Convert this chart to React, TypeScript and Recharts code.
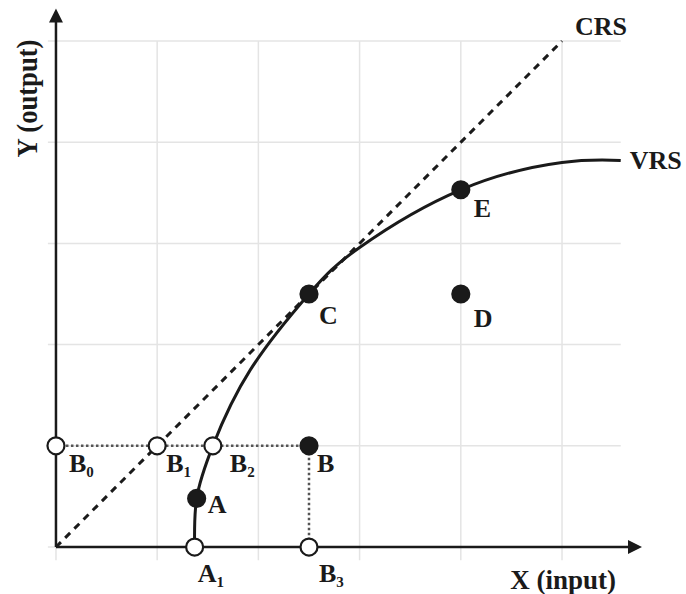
import { ComposedChart, Line, Scatter, XAxis, YAxis, ReferenceLine } from "recharts";

// grid positions (data units)
const gridX = [0, 1, 2, 3, 4, 5];
const gridY = [0, 1, 2, 3, 4, 5];

// constant returns to scale frontier
const crsLine = [
  { x: 0, y: 0 },
  { x: 5, y: 5 },
];

// variable returns to scale frontier
const vrsCurve = [
  { x: 1.37, y: 0 },
  { x: 1.39, y: 0.48 },
  { x: 1.55, y: 1 },
  { x: 1.92, y: 1.75 },
  { x: 2.5, y: 2.5 },
  { x: 3, y: 2.96 },
  { x: 4, y: 3.53 },
  { x: 5, y: 3.8 },
  { x: 5.58, y: 3.82 },
];

// dotted projection lines B0 -> B -> B3
const projection = [
  { x: 0, y: 1 },
  { x: 2.5, y: 1 },
  { x: 2.5, y: 0 },
];

const filledPoints = [
  { name: "A", sub: "", x: 1.39, y: 0.48 },
  { name: "B", sub: "", x: 2.5, y: 1 },
  { name: "C", sub: "", x: 2.5, y: 2.5 },
  { name: "D", sub: "", x: 4, y: 2.5 },
  { name: "E", sub: "", x: 4, y: 3.53 },
];

const openPoints = [
  { name: "B", sub: "0", x: 0, y: 1 },
  { name: "B", sub: "1", x: 1, y: 1 },
  { name: "B", sub: "2", x: 1.55, y: 1 },
  { name: "A", sub: "1", x: 1.37, y: 0 },
  { name: "B", sub: "3", x: 2.5, y: 0 },
];

const arrowTips = [
  { x: 5.79, y: 0, dir: "right", title: "X (input)" },
  { x: 0, y: 5.32, dir: "up", title: "Y (output)" },
];

const frontierLabels = [
  { ...crsLine[crsLine.length - 1], text: "CRS" },
  { ...vrsCurve[vrsCurve.length - 1], text: "VRS" },
];

const FONT = "'Liberation Serif', 'Times New Roman', serif";
const INK = "#1a1a1a";

const labelOffset: Record<string, [number, number]> = {
  A: [11, 15],
  B: [8, 26],
  C: [10, 30],
  D: [13, 33],
  E: [13, 27],
  B0: [13, 26],
  B1: [9, 26],
  B2: [17, 26],
  A1: [3, 35],
  B3: [10, 35],
};

function PointShape(props: any) {
  const { cx, cy, payload, open } = props;
  const key = payload.name + payload.sub;
  const [dx, dy] = labelOffset[key] || [10, 25];
  return (
    <g>
      <circle cx={cx} cy={cy} r={8.5} fill={open ? "#fff" : INK} stroke={INK} strokeWidth={2.2} />
      <text x={cx + dx} y={cy + dy} fontFamily={FONT} fontWeight="bold" fontSize={26} fill={INK}>
        {payload.name}
        {payload.sub ? (
          <tspan dy={5} fontSize={15}>
            {payload.sub}
          </tspan>
        ) : null}
      </text>
    </g>
  );
}

function ArrowShape(props: any) {
  const { cx, cy, payload } = props;
  if (payload.dir === "right") {
    return (
      <g>
        <polygon points={`${cx},${cy} ${cx - 14},${cy - 7} ${cx - 14},${cy + 7}`} fill={INK} />
        <text x={cx - 26} y={cy + 42} textAnchor="end" fontFamily={FONT} fontWeight="bold" fontSize={27} fill={INK}>
          {payload.title}
        </text>
      </g>
    );
  }
  const tx = cx - 19;
  const ty = cy + 90;
  return (
    <g>
      <polygon points={`${cx},${cy} ${cx - 7},${cy + 14} ${cx + 7},${cy + 14}`} fill={INK} />
      <text
        x={tx}
        y={ty}
        transform={`rotate(-90 ${tx} ${ty})`}
        textAnchor="middle"
        fontFamily={FONT}
        fontWeight="bold"
        fontSize={30}
        textLength={118}
        lengthAdjust="spacingAndGlyphs"
        fill={INK}
      >
        {payload.title}
      </text>
    </g>
  );
}

function FrontierLabel(props: any) {
  const { cx, cy, payload } = props;
  const crs = payload.text === "CRS";
  return (
    <text
      x={cx + (crs ? 13 : 9)}
      y={cy + (crs ? -6 : 9)}
      fontFamily={FONT}
      fontWeight="bold"
      fontSize={26}
      fill={INK}
    >
      {payload.text}
    </text>
  );
}

export default function App() {
  return (
    <div style={{ position: "absolute", left: 0, top: 0, background: "#fff" }}>
      <ComposedChart width={686} height={594} margin={{ top: 0, right: 0, bottom: 0, left: 0 }}>
        <XAxis type="number" dataKey="x" domain={[-0.553, 6.225]} hide height={0} />
        <YAxis type="number" dataKey="y" domain={[-0.464, 5.405]} hide width={0} />
        {gridX.map((gx) => (
          <ReferenceLine
            key={"gx" + gx}
            segment={[
              { x: gx, y: -0.13 },
              { x: gx, y: 5 },
            ]}
            stroke="#e4e4e4"
            strokeWidth={1.5}
          />
        ))}
        {gridY.map((gy) => (
          <ReferenceLine
            key={"gy" + gy}
            segment={[
              { x: -0.08, y: gy },
              { x: 5.58, y: gy },
            ]}
            stroke="#e4e4e4"
            strokeWidth={1.5}
          />
        ))}
        <ReferenceLine
          segment={[
            { x: 0, y: 0 },
            { x: 5.7, y: 0 },
          ]}
          stroke={INK}
          strokeWidth={2.5}
        />
        <ReferenceLine
          segment={[
            { x: 0, y: 0 },
            { x: 0, y: 5.2 },
          ]}
          stroke={INK}
          strokeWidth={2.5}
        />
        <Line
          data={projection}
          dataKey="y"
          type="linear"
          stroke="#555"
          strokeWidth={2.5}
          strokeDasharray="2.5 2.5"
          dot={false}
          activeDot={false}
          isAnimationActive={false}
        />
        <Line
          data={crsLine}
          dataKey="y"
          type="linear"
          stroke={INK}
          strokeWidth={3}
          strokeDasharray="7 6"
          dot={false}
          activeDot={false}
          isAnimationActive={false}
        />
        <Line
          data={vrsCurve}
          dataKey="y"
          type="natural"
          stroke={INK}
          strokeWidth={3}
          dot={false}
          activeDot={false}
          isAnimationActive={false}
        />
        <Scatter data={openPoints} shape={(p: any) => <PointShape {...p} open />} activeShape={false as any} isAnimationActive={false} />
        <Scatter data={filledPoints} shape={(p: any) => <PointShape {...p} />} activeShape={false as any} isAnimationActive={false} />
        <Scatter data={arrowTips} shape={(p: any) => <ArrowShape {...p} />} isAnimationActive={false} />
        <Scatter data={frontierLabels} shape={(p: any) => <FrontierLabel {...p} />} isAnimationActive={false} />
      </ComposedChart>
    </div>
  );
}
